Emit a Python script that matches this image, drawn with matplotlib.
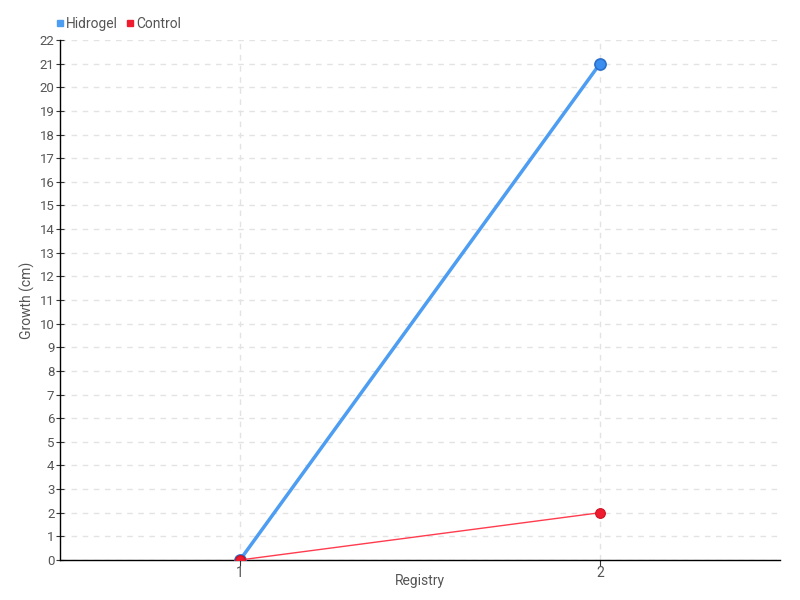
import numpy as np
import matplotlib.pyplot as plt

plt.rcParams['font.family'] = ['Roboto', 'DejaVu Sans']

registry = [1, 2]
hidrogel = [0, 21]
control = [0, 2]
yticks = list(range(0, 23))

fig = plt.figure(figsize=(8, 6), dpi=100)
ax = fig.add_axes([0.075, 0.0667, 0.9, 0.8666])

ax.plot(registry, hidrogel, color='#4d9df2', linewidth=2.5, marker='o', markersize=8,
        markerfacecolor='#3a8ef0', markeredgecolor='#2a6fcc', markeredgewidth=1.2,
        label='Hidrogel', zorder=3)
ax.plot(registry, control, color='#ff3b4e', linewidth=1, marker='o', markersize=7,
        markerfacecolor='#ee1c2e', markeredgecolor='#d01020', markeredgewidth=0.8,
        label='Control', zorder=4)

ax.set_xlim(0.5, 2.5)
ax.set_ylim(0, 22)
ax.set_xticks(registry)
ax.set_yticks(yticks)
ax.grid(True, color='#e3e3e3', linestyle=(0, (4, 4)), linewidth=1)
ax.set_axisbelow(True)

for s in ['top', 'right']:
    ax.spines[s].set_visible(False)
ax.spines['left'].set_linewidth(1)
ax.spines['bottom'].set_linewidth(1)
ax.tick_params(axis='y', direction='inout', length=6, labelsize=9.5, colors='#333333', pad=1)
ax.tick_params(axis='x', direction='out', length=4, labelsize=10, colors='#333333', pad=0)
for lab in ax.get_xticklabels() + ax.get_yticklabels():
    lab.set_color('#555555')

ax.set_xlabel('Registry', fontsize=10, color='#555555', va='center')
ax.set_ylabel('Growth (cm)', fontsize=10, color='#555555', va='center')
ax.xaxis.set_label_coords(0.5, -0.04)
ax.yaxis.set_label_coords(-0.045, 0.5)

h1 = plt.Line2D([], [], color='#4d9df2', marker='s', linestyle='none', markersize=4)
h2 = plt.Line2D([], [], color='#ee1c2e', marker='s', linestyle='none', markersize=4)
fig.legend([h1, h2], ['Hidrogel', 'Control'], loc='upper left', bbox_to_anchor=(0.053, 0.993),
           ncol=2, frameon=False, fontsize=10, handletextpad=0.0, columnspacing=0.5,
           handlelength=0.8, labelcolor='#555555')

fig.savefig('out.png', dpi=100)
